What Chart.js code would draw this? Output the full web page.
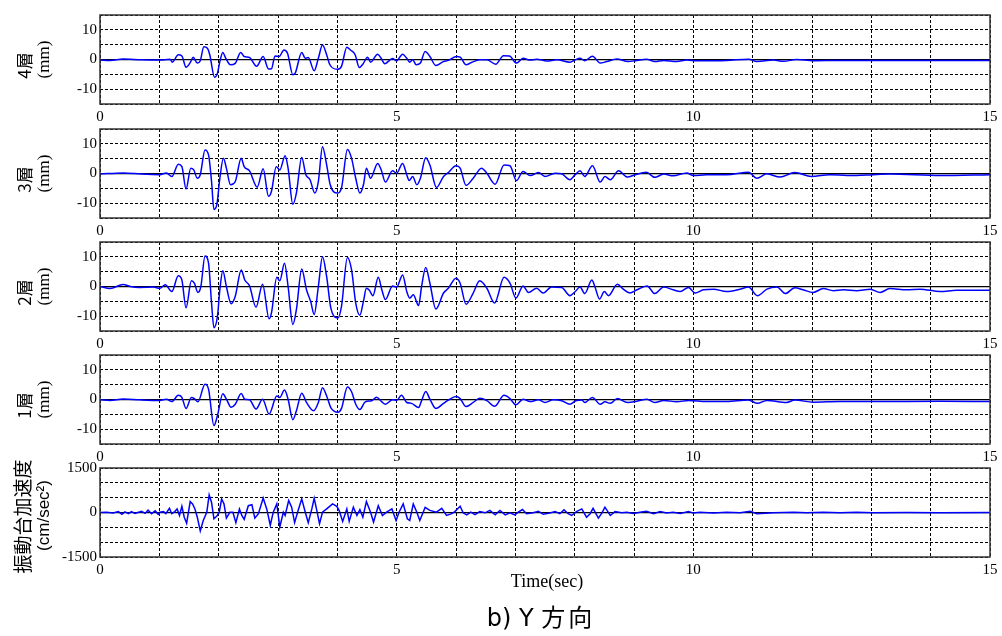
<!DOCTYPE html>
<html lang="ja">
<head>
<meta charset="utf-8">
<title>応答変位と振動台加速度 Y方向</title>
<script src="https://cdn.jsdelivr.net/npm/chart.js@4.4.1/dist/chart.umd.min.js"></script>
<style>
  body { margin: 0; background: #fff; }
  #page { position: relative; width: 1002px; height: 636px; overflow: hidden; background: #fff; }
  .panel { position: absolute; left: 0; width: 1002px; height: 125px; }
  #xTitle { position: absolute; left: 447px; width: 200px; top: 571px; text-align: center;
            font: 18px "Liberation Serif", serif; color: #000; }
  #caption { position: absolute; left: 391px; width: 300px; top: 598px; text-align: center;
             font: 24px "DejaVu Sans", "Noto Sans CJK JP", sans-serif; color: #000; white-space: pre; }
  #caption .jp { letter-spacing: 3px; }
</style>
</head>
<body>
<div id="page">
  <div class="panel" style="top:3px"><canvas id="floor4"></canvas></div>
  <div class="panel" style="top:117px"><canvas id="floor3"></canvas></div>
  <div class="panel" style="top:230px"><canvas id="floor2"></canvas></div>
  <div class="panel" style="top:343px"><canvas id="floor1"></canvas></div>
  <div class="panel" style="top:456px"><canvas id="table"></canvas></div>
  <div id="xTitle">Time(sec)</div>
  <div id="caption">b) Y <span class="jp">方向</span></div>
</div>
<script>
// 4層 displacement (mm)
const t4 = [0,0.17,0.39,0.7,1.01,1.18,1.22,1.32,1.38,1.45,
  1.53,1.57,1.64,1.69,1.75,1.81,1.85,1.93,1.98,2.02,
  2.07,2.12,2.2,2.28,2.37,2.43,2.52,2.64,2.75,2.84,
  2.89,2.95,3.02,3.1,3.16,3.25,3.29,3.4,3.46,3.51,
  3.61,3.68,3.75,3.82,3.87,4,4.07,4.16,4.22,4.3,
  4.37,4.43,4.51,4.56,4.68,4.73,4.8,4.93,5,5.1,
  5.17,5.22,5.27,5.33,5.4,5.48,5.56,5.66,5.79,5.87,
  6.01,6.07,6.17,6.26,6.4,6.52,6.67,6.8,6.9,7.02,
  7.13,7.25,7.36,7.53,7.7,7.92,8.01,8.09,8.17,8.3,
  8.43,8.54,8.71,8.9,9.05,9.21,9.35,9.5,9.72,9.89,
  10.06,10.56,10.93,11.07,11.35,11.52,11.74,12.02,12.47,13,
  14,15];
const d4 = [-0.2,-0.3,0.2,-0.1,-0.2,0.1,-0.9,1.6,1.2,-2.6,
  -0.7,0.8,-1.2,-0.4,4.3,3.8,1.6,-6.0,-4.6,-0.7,
  2.4,0.4,-1.8,-1.3,2.4,1.0,0.7,-2.3,1.0,-3.2,
  -3.1,1.2,1.0,3.2,2.1,-5.1,-4.6,2.4,0.4,0.7,
  -3.8,0.4,4.9,1.6,-1.6,-3.3,-2.3,4.1,3.2,1.6,
  -2.7,-1.6,0.8,-0.9,1.8,0.7,-1.4,0.3,-0.4,1.8,
  0.4,-0.9,-0.1,-1.8,-1.2,2.7,1.0,-2.0,-0.7,-0.3,
  1.0,0.8,-1.8,-1.0,-0.1,-0.1,-1.6,1.3,1.2,-1.2,
  0.4,-0.2,0.1,-0.5,-0.1,-0.9,-0.1,0.4,-0.4,1.1,
  -1.2,-0.7,0.2,-0.7,-0.3,0.1,-0.7,-0.3,-0.7,-0.2,
  -0.4,-0.3,0.1,-0.7,-0.2,-0.6,0,-0.4,-0.3,-0.3,
  -0.3,-0.3];

// 3層 displacement (mm)
const t3 = [0,0.39,0.7,1.01,1.12,1.21,1.32,1.38,1.45,1.53,
  1.58,1.64,1.69,1.77,1.83,1.88,1.92,1.97,2.02,2.08,
  2.13,2.2,2.28,2.38,2.43,2.52,2.65,2.75,2.84,2.89,
  2.97,3.03,3.12,3.17,3.25,3.31,3.4,3.47,3.54,3.62,
  3.68,3.75,3.82,3.88,4,4.07,4.17,4.24,4.31,4.38,
  4.44,4.49,4.56,4.68,4.74,4.81,4.93,5,5.1,5.17,
  5.21,5.27,5.34,5.4,5.49,5.56,5.67,5.79,5.87,6,
  6.07,6.17,6.29,6.43,6.52,6.66,6.81,6.91,7.02,7.13,
  7.25,7.39,7.5,7.67,7.78,7.92,8.01,8.09,8.17,8.3,
  8.43,8.51,8.6,8.74,8.89,9.02,9.21,9.35,9.5,9.66,
  9.89,10,10.22,10.56,10.93,11.07,11.24,11.46,11.71,11.99,
  12.3,12.75,13.03,13.31,14.16,15];
const d3 = [-0.2,0.2,-0.2,-0.4,0.2,-1.0,3.1,2.3,-5.2,1.8,
  1.2,-1.6,-0.4,7.9,6.2,-2.7,-12.1,-10.4,-1.6,5.1,
  1.8,-3.8,-2.7,5.1,2.3,0.9,-4.6,1.6,-7.7,-6.0,
  2.3,1.2,6.0,1.8,-10.4,-6.6,5.4,-0.4,-2.1,-6.6,
  -2.7,9.0,2.9,-3.8,-6.6,-4.9,8.1,5.1,-1.6,-6.6,
  -3.8,1.8,-1.6,3.4,1.2,-2.9,0.9,0.1,3.4,-0.4,
  -2.4,-1.0,-3.8,-1.6,5.3,2.9,-4.7,-1.0,0.3,2.6,
  1.8,-4.0,-1.6,1.8,0.1,-3.6,2.9,2.6,-2.4,0.7,
  -0.7,0.3,-1.0,0.1,-0.1,-2.1,-0.4,0.9,-1.0,2.6,
  -2.9,-1.0,-2.1,0.9,-1.2,-0.4,0.4,-1.3,-0.2,-0.8,
  0.2,-0.7,-0.4,-0.4,0.4,-1.6,-0.1,-1.2,0.3,-1.0,
  -0.4,-0.7,-0.4,-0.2,-0.7,-0.4];

// 2層 displacement (mm)
const t2 = [0,0.17,0.39,0.51,0.67,0.9,1.01,1.1,1.21,1.32,
  1.38,1.45,1.54,1.59,1.65,1.7,1.77,1.83,1.88,1.92,
  1.98,2.02,2.07,2.13,2.21,2.28,2.38,2.44,2.52,2.63,
  2.74,2.85,2.89,2.98,3.03,3.11,3.17,3.25,3.31,3.4,
  3.48,3.55,3.61,3.68,3.75,3.82,3.89,4.01,4.07,4.17,
  4.24,4.31,4.38,4.44,4.49,4.54,4.6,4.69,4.75,4.81,
  4.93,5,5.1,5.17,5.22,5.28,5.37,5.42,5.49,5.56,
  5.66,5.79,5.87,6,6.07,6.17,6.29,6.4,6.52,6.65,
  6.81,6.91,7.01,7.13,7.22,7.36,7.47,7.61,7.78,7.92,
  8.01,8.09,8.17,8.29,8.34,8.42,8.5,8.57,8.72,8.82,
  8.93,9.05,9.22,9.35,9.5,9.66,9.78,9.92,10.03,10.17,
  10.34,10.56,10.79,10.93,11.08,11.24,11.41,11.55,11.71,11.85,
  12.02,12.19,12.36,12.53,12.75,12.98,13.15,13.31,13.6,13.82,
  14.16,14.44,15];
const d2 = [0,-0.7,0.7,0,-0.3,-0.2,-0.6,0.6,-1.7,3.6,
  2.2,-7.2,1.9,1.1,-2.0,0,10.3,7.8,-5.6,-13.9,
  -10.0,-1.1,5.3,0,-5.8,-3.3,5.6,2.2,0.2,-7.0,
  0.8,-10.9,-8.9,3.1,1.9,7.8,0,-12.8,-7.8,5.9,
  -1.1,-5.0,-9.4,0,10.0,3.3,-7.2,-10.6,-6.7,9.8,
  5.6,-5.6,-9.7,-5.0,-0.6,-1.3,-3.1,3.1,-1.1,-4.4,
  0.2,-0.2,3.9,-1.7,-3.9,-2.8,-6.4,0,6.4,1.1,
  -7.6,-2.2,-0.6,2.8,1.1,-6.0,-2.2,1.9,-0.6,-5.6,
  3.1,1.1,-3.9,0.2,-2.0,-0.6,-2.2,-0.2,-0.3,-3.1,
  -1.7,-0.2,-2.4,2.2,0,-4.2,-1.7,-3.1,0.8,-0.9,
  -2.2,-1.1,0.2,-2.4,-0.2,-1.1,-1.7,-0.3,-2.2,-1.1,
  -0.9,-1.7,-0.9,-0.2,-3.1,-0.9,-0.2,-2.4,-0.4,-1.1,
  -2.0,-0.7,-1.4,-1.1,-1.4,-0.9,-2.0,-0.7,-1.1,-0.9,
  -1.7,-1.3,-1.3];

// 1層 displacement (mm)
const t1 = [0,0.17,0.39,0.67,1.01,1.12,1.21,1.32,1.38,1.45,
  1.54,1.59,1.65,1.77,1.83,1.92,1.98,2.07,2.13,2.21,
  2.28,2.38,2.44,2.52,2.63,2.74,2.85,2.98,3.03,3.11,
  3.17,3.25,3.31,3.4,3.48,3.6,3.68,3.75,3.82,3.89,
  4.01,4.07,4.17,4.24,4.31,4.38,4.47,4.58,4.66,4.75,
  4.81,4.93,5,5.08,5.17,5.25,5.37,5.42,5.49,5.56,
  5.66,5.79,5.87,6,6.07,6.17,6.29,6.4,6.52,6.65,
  6.81,6.91,7.01,7.13,7.25,7.39,7.5,7.64,7.78,7.92,
  8.03,8.12,8.17,8.3,8.43,8.51,8.6,8.72,8.89,9.05,
  9.22,9.35,9.5,9.72,9.92,10.22,10.56,10.93,11.08,11.24,
  11.57,11.71,12.02,12.47,13.03,14.16,15];
const d1 = [-0.1,-0.3,0.2,-0.1,-0.3,0.1,-0.7,1.4,0.7,-3.0,
  0.7,0.3,-0.8,5.1,3.4,-8.8,-5.4,1.9,0.1,-2.6,
  -1.6,2.0,0.1,-0.1,-3.2,0.1,-4.9,1.2,0.7,3.2,
  0.1,-6.8,-3.8,2.1,-1.0,-3.8,-1.0,4.0,1.2,-2.7,
  -4.3,-3.0,4.2,2.6,-1.6,-3.4,-0.8,-0.4,0.8,-0.8,
  -1.6,-0.1,-0.3,1.4,-1.0,-1.3,-2.7,-0.4,2.7,0.1,
  -3.0,-1.3,-0.2,1.0,0.3,-2.4,-1.0,0.4,-0.4,-2.3,
  1.4,0.3,-1.8,0.1,-0.7,-0.1,-1.0,-0.1,-0.4,-1.6,
  -0.3,-0.2,-1.0,0.7,-1.6,-0.8,-1.3,0.3,-1.0,-0.6,
  0.1,-1.0,-0.3,-0.8,-0.3,-0.7,-0.7,-0.2,-1.3,-0.3,
  -1.0,-0.2,-0.9,-0.7,-0.7,-0.6,-0.7];

// 振動台 acceleration (cm/sec^2)
const tT = [0,0.11,0.22,0.31,0.37,0.42,0.48,0.53,0.59,0.65,
  0.7,0.76,0.81,0.87,0.93,0.98,1.01,1.07,1.11,1.17,
  1.21,1.26,1.3,1.34,1.38,1.42,1.46,1.52,1.56,1.6,
  1.64,1.69,1.74,1.8,1.84,1.88,1.92,1.97,2.01,2.05,
  2.09,2.13,2.19,2.24,2.29,2.35,2.39,2.43,2.5,2.56,
  2.61,2.67,2.75,2.81,2.87,2.92,2.98,3.03,3.09,3.12,
  3.18,3.23,3.28,3.33,3.4,3.46,3.51,3.57,3.61,3.66,
  3.7,3.75,3.82,3.92,3.99,4.03,4.09,4.16,4.2,4.27,
  4.33,4.38,4.43,4.49,4.56,4.61,4.69,4.76,4.83,4.92,
  4.99,5.04,5.11,5.18,5.22,5.28,5.34,5.39,5.48,5.56,
  5.67,5.76,5.84,5.93,5.98,6.07,6.12,6.18,6.25,6.32,
  6.4,6.49,6.57,6.66,6.74,6.83,6.91,6.99,7.05,7.12,
  7.19,7.3,7.39,7.47,7.58,7.67,7.75,7.82,7.89,7.95,
  8.03,8.12,8.2,8.26,8.31,8.4,8.46,8.51,8.6,8.68,
  8.79,8.88,8.99,9.1,9.21,9.33,9.44,9.55,9.66,9.78,
  9.92,10,10.11,10.34,10.56,10.79,10.96,11.07,11.35,11.69,
  11.91,12.19,12.47,12.75,13.03,13.6,14.16,15];
const aT = [0,10,-20,30,-60,20,-40,30,-30,10,
  40,-30,80,-40,60,-60,10,30,-40,140,
  -40,30,120,-100,210,-160,-360,370,290,120,
  -160,-620,-270,10,590,340,-210,-120,10,460,
  290,-190,10,10,-340,120,-100,-230,230,260,
  -190,-40,490,120,-430,10,290,-490,10,-100,
  400,180,-340,10,460,10,-340,120,480,10,
  -380,10,120,290,210,70,-300,120,-300,180,
  -100,100,-160,370,10,-320,230,-100,10,120,
  -270,10,290,-210,-270,290,10,-270,170,70,
  10,140,-100,-40,30,210,-10,-80,10,-70,
  30,-10,70,-80,70,-80,-10,-80,10,100,
  -40,-10,40,-60,-20,30,-40,90,-40,-100,
  30,120,-160,-40,140,-190,-10,180,-100,30,
  -10,10,-30,10,40,-40,30,-20,10,-30,
  30,-20,10,-20,10,-10,40,-40,-10,10,
  -10,10,-10,10,-10,0,-10,0];

Chart.defaults.font.family = '"Liberation Serif", "Times New Roman", serif';
Chart.defaults.font.size = 15;
Chart.defaults.color = '#000';

// rotated two-line label left of each plot
const sideLabel = {
  id: 'sideLabel',
  afterDraw(chart, args, opts) {
    const { ctx, chartArea } = chart;
    const mid = (chartArea.top + chartArea.bottom) / 2;
    ctx.save();
    ctx.fillStyle = '#000';
    ctx.textAlign = 'center';
    ctx.textBaseline = 'middle';
    (opts.lines || []).forEach(l => {
      ctx.save();
      ctx.translate(l.x, mid + (l.dy || 0));
      ctx.rotate(-Math.PI / 2);
      ctx.font = l.font;
      ctx.fillText(l.text, 0, 0);
      ctx.restore();
    });
    ctx.restore();
  }
};

// box round the plot area
const frame = {
  id: 'frame',
  afterDatasetsDraw(chart) {
    const { ctx, chartArea: a } = chart;
    ctx.save();
    ctx.strokeStyle = '#333';
    ctx.lineWidth = 1.5;
    ctx.strokeRect(a.left, a.top, a.right - a.left, a.bottom - a.top);
    ctx.restore();
  }
};

function makePanel(id, times, values, cfg) {
  const points = times.map((t, i) => ({ x: t, y: values[i] }));
  return new Chart(document.getElementById(id), {
    type: 'line',
    data: {
      datasets: [{
        data: points,
        borderColor: '#0000ff',
        borderWidth: 1.5,
        pointRadius: 0,
        fill: false,
        tension: cfg.tension,
        cubicInterpolationMode: cfg.tension ? 'monotone' : 'default'
      }]
    },
    plugins: [sideLabel, frame],
    options: {
      responsive: true,
      maintainAspectRatio: false,
      animation: false,
      events: [],
      layout: { padding: { top: 10, right: 12, bottom: 0, left: 0 } },
      plugins: {
        legend: { display: false },
        tooltip: { enabled: false },
        sideLabel: { lines: cfg.lines }
      },
      scales: {
        x: {
          type: 'linear',
          min: 0,
          max: 15,
          afterFit: s => { s.height = 24; },
          grid: { color: '#000', lineWidth: 1, drawTicks: false },
          border: { display: false, dash: [3, 2] },
          ticks: {
            stepSize: 1,
            autoSkip: false,
            maxRotation: 0,
            padding: 4,
            callback: v => (v % 5 === 0 ? String(v) : '')
          }
        },
        y: {
          min: -cfg.yMax,
          max: cfg.yMax,
          afterFit: s => { s.width = 100; },
          grid: {
            color: '#000',
            drawTicks: false,
            lineWidth: c => (c.tick && c.tick.value === 0 ? 1.3 : 1)
          },
          border: {
            display: false,
            dash: c => (c.tick && c.tick.value === 0 ? [] : [3, 2])
          },
          ticks: {
            stepSize: cfg.yStep,
            autoSkip: false,
            padding: 3,
            callback: v => (v % cfg.labelEvery === 0 && Math.abs(v) <= cfg.labelMax ? String(v) : '')
          }
        }
      }
    }
  });
}

const mmFont = '17px "Liberation Serif", serif';
const kanjiFont = '17px "Noto Sans CJK JP", sans-serif';

makePanel('floor4', t4, d4, { yMax: 15, yStep: 5, labelEvery: 10, labelMax: 10, tension: 0.4,
  lines: [{ text: '4層', font: kanjiFont, x: 25, dy: 6 }, { text: '(mm)', font: mmFont, x: 45, dy: 0 }] });
makePanel('floor3', t3, d3, { yMax: 15, yStep: 5, labelEvery: 10, labelMax: 10, tension: 0.4,
  lines: [{ text: '3層', font: kanjiFont, x: 25, dy: 6 }, { text: '(mm)', font: mmFont, x: 45, dy: 0 }] });
makePanel('floor2', t2, d2, { yMax: 15, yStep: 5, labelEvery: 10, labelMax: 10, tension: 0.4,
  lines: [{ text: '2層', font: kanjiFont, x: 25, dy: 6 }, { text: '(mm)', font: mmFont, x: 45, dy: 0 }] });
makePanel('floor1', t1, d1, { yMax: 15, yStep: 5, labelEvery: 10, labelMax: 10, tension: 0.4,
  lines: [{ text: '1層', font: kanjiFont, x: 25, dy: 6 }, { text: '(mm)', font: mmFont, x: 45, dy: 0 }] });
makePanel('table', tT, aT, { yMax: 1500, yStep: 500, labelEvery: 1500, labelMax: 1500, tension: 0,
  lines: [{ text: '振動台加速度', font: '19px "Noto Sans CJK JP", sans-serif', x: 23, dy: 4 },
          { text: '(cm/sec²)', font: '17px "Liberation Sans", sans-serif', x: 44, dy: 3 }] });
</script>
</body>
</html>
